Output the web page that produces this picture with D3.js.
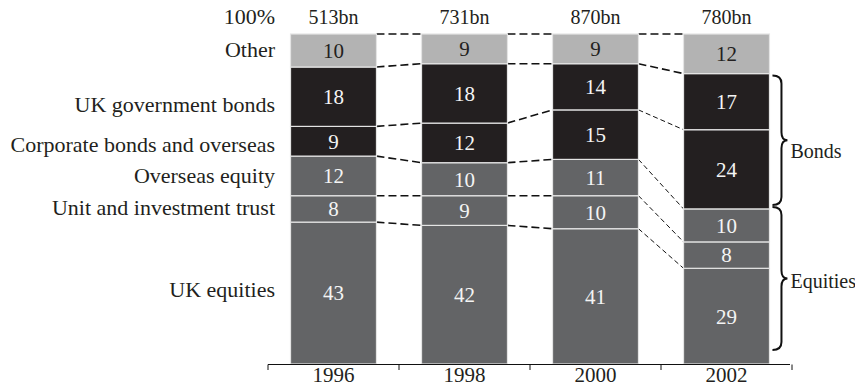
<!DOCTYPE html>
<html>
<head>
<meta charset="utf-8">
<script src="https://cdn.jsdelivr.net/npm/d3@7"></script>
<style>
  html, body { margin: 0; padding: 0; background: #fff; }
  svg { display: block; font-family: "Liberation Serif", "Times New Roman", serif; }
</style>
</head>
<body>
<svg id="chart" width="855" height="388"></svg>
<script>
// Years on the x axis and the fund size shown above each bar
const years = ["1996", "1998", "2000", "2002"];
const totals = ["513bn", "731bn", "870bn", "780bn"];

// Share of the portfolio (%) per asset class, one value per year
const other = [10, 9, 9, 12];
const ukGovBonds = [18, 18, 14, 17];
const corporateBonds = [9, 12, 15, 24];
const overseasEquity = [12, 10, 11, 10];
const unitTrust = [8, 9, 10, 8];
const ukEquities = [43, 42, 41, 29];

// Stack order, bottom to top
const keys = ["ukEquities", "unitTrust", "overseasEquity", "corporateBonds", "ukGovBonds", "other"];
const seriesValues = { ukEquities, unitTrust, overseasEquity, corporateBonds, ukGovBonds, other };
const seriesLabels = {
  other: "Other",
  ukGovBonds: "UK government bonds",
  corporateBonds: "Corporate bonds and overseas",
  overseasEquity: "Overseas equity",
  unitTrust: "Unit and investment trust",
  ukEquities: "UK equities"
};
const fills = {
  other: "#b3b3b3",
  ukGovBonds: "#231f20",
  corporateBonds: "#231f20",
  overseasEquity: "#636466",
  unitTrust: "#636466",
  ukEquities: "#636466"
};
// Small vertical nudges (px) for the left-hand category names
const labelNudge = { other: 6, ukGovBonds: 15, corporateBonds: 11, overseasEquity: 7, unitTrust: 6, ukEquities: 4 };

// Groupings shown with braces beside the last bar
const groups = [
  { name: "Bonds", keys: ["ukGovBonds", "corporateBonds"], inset: [2, 4], textDy: 18 },
  { name: "Equities", keys: ["ukEquities", "unitTrust", "overseasEquity"], inset: [-2, 14], textDy: 10 }
];

const table = years.map((yr, i) => {
  const row = { year: yr };
  keys.forEach(k => row[k] = seriesValues[k][i]);
  return row;
});

const stacked = d3.stack().keys(keys)(table);

const svg = d3.select("#chart");

const x = d3.scaleBand()
  .domain(years)
  .range([268, 792])
  .paddingInner(0.344)
  .paddingOuter(0.172);

const y = d3.scaleLinear().domain([0, 100]).range([364, 34]);

// Dashed connectors between neighbouring bars at each segment boundary
const connectors = [];
stacked.forEach(s => {
  for (let i = 0; i < years.length - 1; i++) {
    connectors.push({
      x1: x(years[i]) + x.bandwidth(),
      y1: y(s[i][1]),
      x2: x(years[i + 1]),
      y2: y(s[i + 1][1])
    });
  }
});

svg.append("g").selectAll("line")
  .data(connectors)
  .join("line")
  .attr("x1", d => d.x1).attr("y1", d => d.y1)
  .attr("x2", d => d.x2).attr("y2", d => d.y2)
  .attr("stroke", "#111")
  .attr("stroke-width", d => Math.abs(d.y2 - d.y1) > 15 ? 1 : 1.6)
  .attr("stroke-dasharray", d => Math.abs(d.y2 - d.y1) > 15 ? "5,3" : "8,4");

// Stacked segments
const layers = svg.append("g").selectAll("g")
  .data(stacked)
  .join("g");

layers.selectAll("rect")
  .data(s => s.map(d => ({ key: s.key, d })))
  .join("rect")
  .attr("x", p => x(p.d.data.year))
  .attr("y", p => y(p.d[1]))
  .attr("width", x.bandwidth())
  .attr("height", p => y(p.d[0]) - y(p.d[1]))
  .attr("fill", p => fills[p.key])
  .attr("stroke", "#e4e4e4")
  .attr("stroke-width", 1.2);

layers.selectAll("text")
  .data(s => s.map(d => ({ key: s.key, d })))
  .join("text")
  .attr("x", p => x(p.d.data.year) + x.bandwidth() / 2)
  .attr("y", p => (y(p.d[0]) + y(p.d[1])) / 2)
  .attr("dy", "0.35em")
  .attr("text-anchor", "middle")
  .attr("font-size", 21)
  .attr("fill", p => p.key === "other" ? "#231f20" : "#f4f4f4")
  .text(p => p.d[1] - p.d[0]);

// Fund totals above the bars
svg.append("g").selectAll("text")
  .data(years)
  .join("text")
  .attr("x", d => x(d) + x.bandwidth() / 2)
  .attr("y", 24)
  .attr("text-anchor", "middle")
  .attr("font-size", 20)
  .attr("fill", "#231f20")
  .text((d, i) => totals[i]);

svg.append("text")
  .attr("x", 275)
  .attr("y", 24)
  .attr("text-anchor", "end")
  .attr("font-size", 22)
  .attr("fill", "#231f20")
  .text("100%");

// Category names to the left, level with the first bar's segments
const first = stacked.map(s => ({ key: s.key, d: s[0] }));
svg.append("g").selectAll("text")
  .data(first)
  .join("text")
  .attr("x", 275)
  .attr("y", p => (y(p.d[0]) + y(p.d[1])) / 2 + labelNudge[p.key])
  .attr("text-anchor", "end")
  .attr("font-size", 22)
  .attr("fill", "#231f20")
  .text(p => seriesLabels[p.key]);

// Braces grouping bonds and equities for the last year
const lastIdx = years.length - 1;
const barRight = x(years[lastIdx]) + x.bandwidth();
const xe = barRight + 3, xs = barRight + 12, xt = barRight + 18, r = 8;
groups.forEach(g => {
  const series = stacked.filter(s => g.keys.includes(s.key));
  const top = y(d3.max(series, s => s[lastIdx][1])) + g.inset[0];
  const bottom = y(d3.min(series, s => s[lastIdx][0])) - g.inset[1];
  const mid = (top + bottom) / 2;
  const p = d3.path();
  p.moveTo(xe, top);
  p.quadraticCurveTo(xs, top, xs, top + r);
  p.lineTo(xs, mid - r);
  p.quadraticCurveTo(xs, mid, xt, mid);
  p.quadraticCurveTo(xs, mid, xs, mid + r);
  p.lineTo(xs, bottom - r);
  p.quadraticCurveTo(xs, bottom, xe, bottom);
  svg.append("path")
    .attr("d", p.toString())
    .attr("fill", "none")
    .attr("stroke", "#111")
    .attr("stroke-width", 2);
  svg.append("text")
    .attr("x", xt + 3)
    .attr("y", mid + g.textDy)
    .attr("font-size", 20)
    .attr("fill", "#231f20")
    .text(g.name);
});

// Category axis: baseline with ticks at the band edges
const step = x.step();
const edges = years.map(d => x(d) - (step - x.bandwidth()) / 2);
edges.push(edges[edges.length - 1] + step);
const axis = svg.append("g");
axis.append("line")
  .attr("x1", edges[0]).attr("x2", edges[edges.length - 1] - 2)
  .attr("y1", 364.5).attr("y2", 364.5)
  .attr("stroke", "#111").attr("stroke-width", 1);
axis.selectAll("line.tick")
  .data(edges)
  .join("line")
  .attr("class", "tick")
  .attr("x1", d => d).attr("x2", d => d)
  .attr("y1", 364.5).attr("y2", 370)
  .attr("stroke", "#111").attr("stroke-width", 1);
axis.selectAll("text")
  .data(years)
  .join("text")
  .attr("x", d => x(d) + x.bandwidth() / 2)
  .attr("y", 382)
  .attr("text-anchor", "middle")
  .attr("font-size", 21)
  .attr("fill", "#231f20")
  .text(d => d);
</script>
</body>
</html>
